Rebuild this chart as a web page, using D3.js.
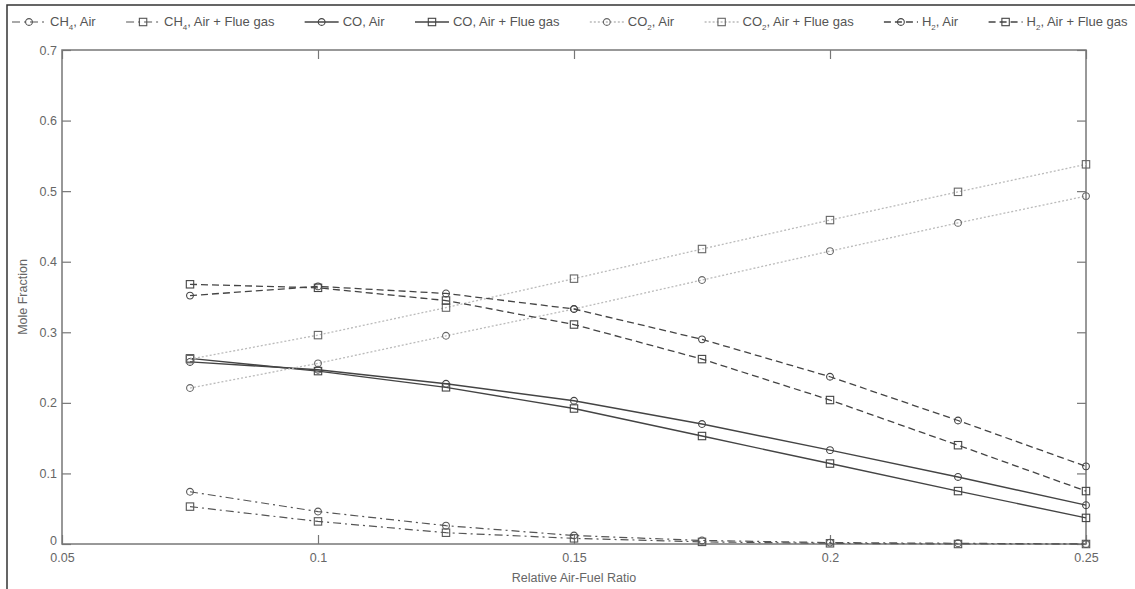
<!DOCTYPE html>
<html>
<head>
<meta charset="utf-8">
<script src="https://cdn.jsdelivr.net/npm/d3@7"></script>
<style>
  body { margin: 0; background: #fff; }
  text { font-family: "Liberation Sans", Arial, sans-serif; }
</style>
</head>
<body>
<div id="chart"></div>
<script>
// values
const ratio = [0.075, 0.1, 0.125, 0.15, 0.175, 0.2, 0.225, 0.25];
const ch4Air = [0.074, 0.046, 0.026, 0.012, 0.005, 0.002, 0.001, 0.0];
const ch4Flue = [0.053, 0.032, 0.016, 0.008, 0.003, 0.001, 0.0, 0.0];
const coAir = [0.258, 0.247, 0.227, 0.203, 0.170, 0.133, 0.095, 0.055];
const coFlue = [0.263, 0.245, 0.222, 0.192, 0.153, 0.114, 0.075, 0.037];
const co2Air = [0.221, 0.256, 0.295, 0.333, 0.374, 0.415, 0.455, 0.493];
const co2Flue = [0.262, 0.296, 0.335, 0.376, 0.418, 0.459, 0.499, 0.538];
const h2Air = [0.352, 0.365, 0.355, 0.333, 0.290, 0.237, 0.175, 0.110];
const h2Flue = [0.368, 0.363, 0.345, 0.311, 0.262, 0.204, 0.140, 0.075];

const xTicks = [0.05, 0.1, 0.15, 0.2, 0.25];
const yTicks = [0, 0.1, 0.2, 0.3, 0.4, 0.5, 0.6, 0.7];

const series = [
    { gas: "CH", sub: "4", feed: "Air", values: ch4Air, marker: "circle", style: "ch4" },
    { gas: "CH", sub: "4", feed: "Air + Flue gas", values: ch4Flue, marker: "square", style: "ch4" },
    { gas: "CO", sub: "", feed: "Air", values: coAir, marker: "circle", style: "co" },
    { gas: "CO", sub: "", feed: "Air + Flue gas", values: coFlue, marker: "square", style: "co" },
    { gas: "CO", sub: "2", feed: "Air", values: co2Air, marker: "circle", style: "co2" },
    { gas: "CO", sub: "2", feed: "Air + Flue gas", values: co2Flue, marker: "square", style: "co2" },
    { gas: "H", sub: "2", feed: "Air", values: h2Air, marker: "circle", style: "h2" },
    { gas: "H", sub: "2", feed: "Air + Flue gas", values: h2Flue, marker: "square", style: "h2" }
];

const lineStyle = {
    ch4: { stroke: "#555", dash: "8,4,2,4", width: 1.2 },
    co: { stroke: "#444", dash: null, width: 1.4 },
    co2: { stroke: "#bbb", dash: "2,2", width: 1.3 },
    h2: { stroke: "#444", dash: "7,4", width: 1.3 }
};

const W = 1135, H = 589;
const margin = { top: 50, right: 49, bottom: 45, left: 62 };
const width = W - margin.left - margin.right,
    height = H - margin.top - margin.bottom;

const root = d3.select("#chart")
    .append("svg")
    .attr("width", W)
    .attr("height", H);

// outer frame (top and left edges visible in the figure)
root.append("path")
    .attr("d", `M7,${H} V5 H${W}`)
    .attr("fill", "none")
    .attr("stroke", "#333")
    .attr("stroke-width", 1.5);

const svg = root.append("g")
    .attr("transform", `translate(${margin.left},${margin.top})`);

const x = d3.scaleLinear().domain([0.05, 0.25]).range([0, width]);
const y = d3.scaleLinear().domain([0, 0.7]).range([height, 0]);

const tickLen = 9;
const axisColor = "#777";

// axes, MATLAB-style ticks pointing inward
svg.append("g")
    .attr("transform", `translate(0,${height})`)
    .call(d3.axisBottom(x).tickValues(xTicks).tickSize(-tickLen).tickPadding(9)
        .tickFormat(d => d3.format("")(+d.toFixed(2))))
    .call(g => g.select(".domain").remove());

svg.append("g")
    .call(d3.axisTop(x).tickValues(xTicks).tickSize(-tickLen).tickFormat(""))
    .call(g => g.select(".domain").remove());

svg.append("g")
    .attr("class", "y-axis")
    .call(d3.axisLeft(y).tickValues(yTicks).tickSize(-tickLen).tickPadding(5)
        .tickFormat(d => d3.format("")(+d.toFixed(1))))
    .call(g => g.select(".domain").remove());

// the "0" label sits just above the x-axis labels, as in the figure
svg.selectAll(".y-axis .tick text")
    .filter(d => d === 0)
    .attr("dy", "0.05em");

svg.append("g")
    .attr("transform", `translate(${width},0)`)
    .call(d3.axisRight(y).tickValues(yTicks).tickSize(-tickLen).tickFormat(""))
    .call(g => g.select(".domain").remove());

svg.selectAll(".tick line").attr("stroke", axisColor).attr("stroke-width", 1.2);
svg.selectAll(".tick text")
    .attr("fill", "#666")
    .style("font-size", "12.5px");

svg.append("rect")
    .attr("width", width)
    .attr("height", height)
    .attr("fill", "none")
    .attr("stroke", axisColor)
    .attr("stroke-width", 1.5);

// data lines
const line = d3.line()
    .x((d, i) => x(ratio[i]))
    .y(d => y(d));

function drawMarker(sel, kind, color) {
    if (kind === "circle") {
        sel.append("circle")
            .attr("r", 3.4)
            .attr("fill", "none")
            .attr("stroke", color)
            .attr("stroke-width", 1.1);
    } else {
        sel.append("rect")
            .attr("x", -3.7).attr("y", -3.7)
            .attr("width", 7.4).attr("height", 7.4)
            .attr("fill", "none")
            .attr("stroke", color)
            .attr("stroke-width", 1.1);
    }
}

const markerColor = { ch4: "#555", co: "#444", co2: "#666", h2: "#444" };

series.forEach(function (s) {
    const st = lineStyle[s.style];
    svg.append("path")
        .datum(s.values)
        .attr("fill", "none")
        .attr("stroke", st.stroke)
        .attr("stroke-width", st.width)
        .attr("stroke-dasharray", st.dash)
        .attr("d", line);

    svg.selectAll(null)
        .data(s.values)
        .join("g")
        .attr("transform", (d, i) => `translate(${x(ratio[i])},${y(d)})`)
        .each(function () { drawMarker(d3.select(this), s.marker, markerColor[s.style]); });
});

// axis titles
svg.append("text")
    .attr("x", width / 2)
    .attr("y", height + 38)
    .attr("text-anchor", "middle")
    .attr("fill", "#666")
    .style("font-size", "12.5px")
    .text("Relative Air-Fuel Ratio");

svg.append("text")
    .attr("transform", "rotate(-90)")
    .attr("x", -height / 2)
    .attr("y", -35)
    .attr("text-anchor", "middle")
    .attr("fill", "#666")
    .style("font-size", "12.5px")
    .text("Mole Fraction");

// horizontal legend across the top
const legend = root.append("g").attr("transform", "translate(0,22)");
const sampleW = 34;
const entries = legend.selectAll("g")
    .data(series)
    .join("g");

entries.each(function (s) {
    const g = d3.select(this);
    const st = lineStyle[s.style];
    g.append("line")
        .attr("x1", 0).attr("x2", sampleW)
        .attr("stroke", st.stroke)
        .attr("stroke-width", st.width)
        .attr("stroke-dasharray", st.dash);
    drawMarker(g.append("g").attr("transform", `translate(${sampleW / 2},0)`), s.marker, markerColor[s.style]);
    const t = g.append("text")
        .attr("x", sampleW + 4)
        .attr("y", 4)
        .attr("fill", "#555")
        .style("font-size", "13px");
    t.append("tspan").text(s.gas);
    if (s.sub) {
        t.append("tspan").attr("dy", 4).style("font-size", "8px").text(s.sub);
        t.append("tspan").attr("dy", -4).text(", " + s.feed);
    } else {
        t.append("tspan").text(", " + s.feed);
    }
});

const widths = [];
entries.each(function () { widths.push(this.getBBox().width); });
const startX = 12, endX = 1128;
const gap = (endX - startX - d3.sum(widths)) / (series.length - 1);
let pos = startX;
entries.attr("transform", function (d, i) {
    const tx = pos;
    pos += widths[i] + gap;
    return `translate(${tx},0)`;
});
</script>
</body>
</html>
